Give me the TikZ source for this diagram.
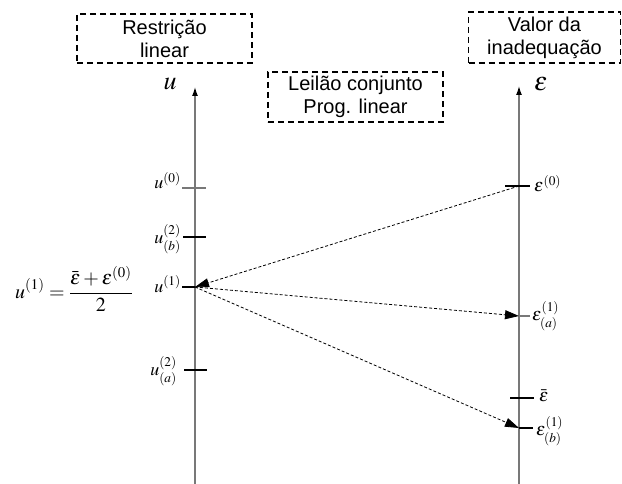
\documentclass[tikz,border=0pt]{standalone}
\usepackage{mathptmx}
\usepackage[no-math]{fontspec}
\setsansfont{Liberation Sans}
\usetikzlibrary{arrows.meta}
\definecolor{axisgray}{RGB}{120,120,120}

\begin{document}
\begin{tikzpicture}[x=1pt,y=-1pt,line join=miter,
    titlebox/.style={draw,dash pattern=on 6pt off 4pt,line width=1.1pt,align=center,
      inner sep=0pt,font=\sffamily\fontsize{20}{23}\selectfont},
    axisline/.style={draw=axisgray,line width=1.3pt,-{Latex[length=9pt,width=6pt,color=black]}},
    tickline/.style={line width=1.2pt},
    guessline/.style={line width=0.8pt,dash pattern=on 3pt off 2pt,
      -{Triangle[length=14pt,width=9pt]}},
    mlabel/.style={inner sep=0pt,font=\fontsize{18}{18}\selectfont}]
    \path[use as bounding box] (0,0) rectangle (622,484);

    % caixas de legenda
    \node[titlebox,minimum width=175pt,minimum height=49pt] (restr) at (164.5,38.5) {Restrição\\linear};
    \node[titlebox,minimum width=175pt,minimum height=50pt] (leilao) at (355.5,97) {Leilão conjunto\\Prog. linear};
    \node[titlebox,minimum width=152pt,minimum height=51pt] (valor) at (544.5,37.5) {Valor da\\inadequação};

    % eixos
    \coordinate (ubot) at (195,484);
    \coordinate (utop) at (195,87);
    \coordinate (ebot) at (519,484);
    \coordinate (etop) at (519,86);
    \draw[axisline] (ubot) -- (utop);
    \draw[axisline] (ebot) -- (etop);
    \node[mlabel,font=\fontsize{26}{26}\selectfont] (unome) at (170,84) {$u$};
    \node[mlabel,font=\fontsize{26}{26}\selectfont] (enome) at (541,84) {$\varepsilon$};

    % marcas no eixo u
    \coordinate (u0) at (195,188);
    \coordinate (u2b) at (195,237);
    \coordinate (u1) at (195,287);
    \coordinate (u2a) at (195,370);
    \draw[tickline,axisgray] ([xshift=-13pt]u0) -- ([xshift=11pt]u0);
    \draw[tickline] ([xshift=-12pt]u2b) -- ([xshift=11pt]u2b);
    \draw[tickline] ([xshift=-13pt]u1) -- (u1);
    \draw[tickline] ([xshift=-11pt]u2a) -- ([xshift=12pt]u2a);

    % marcas no eixo epsilon
    \coordinate (e0) at (519,186);
    \coordinate (e1a) at (519,316);
    \coordinate (ebar) at (519,398);
    \coordinate (e1b) at (519,428);
    \draw[tickline] ([xshift=-14pt]e0) -- ([xshift=11pt]e0);
    \draw[tickline,axisgray] (e1a) -- ([xshift=11pt]e1a);
    \draw[tickline] ([xshift=-9pt]ebar) -- ([xshift=15pt]ebar);
    \draw[tickline] (e1b) -- ([xshift=14pt]e1b);

    % rotulos
    \node[mlabel,anchor=base east] (lu0) at (181,189) {$u^{(0)}$};
    \node[mlabel,anchor=east] (lu2b) at (181,239) {$u^{(2)}_{(b)}$};
    \node[mlabel,anchor=base east] (lu1) at (181,292) {$u^{(1)}$};
    \node[mlabel,anchor=east] (lu2a) at (177,371) {$u^{(2)}_{(a)}$};
    \node[mlabel,anchor=base west] (le0) at (534,192) {$\varepsilon^{(0)}$};
    \node[mlabel,anchor=west] (le1a) at (532,316) {$\varepsilon^{(1)}_{(a)}$};
    \node[mlabel,anchor=west] (lebar) at (539,396) {$\bar{\varepsilon}$};
    \node[mlabel,anchor=west] (le1b) at (536,431) {$\varepsilon^{(1)}_{(b)}$};

    \node[mlabel,font=\fontsize{20}{20}\selectfont] (formula) at (74,289)
      {$\displaystyle u^{(1)}=\frac{\bar{\varepsilon}+\varepsilon^{(0)}}{2}$};

    % setas tracejadas
    \draw[guessline] (e0) -- (u1);
    \draw[guessline] (u1) -- (e1a);
    \draw[guessline] (u1) -- (e1b);
\end{tikzpicture}
\end{document}
